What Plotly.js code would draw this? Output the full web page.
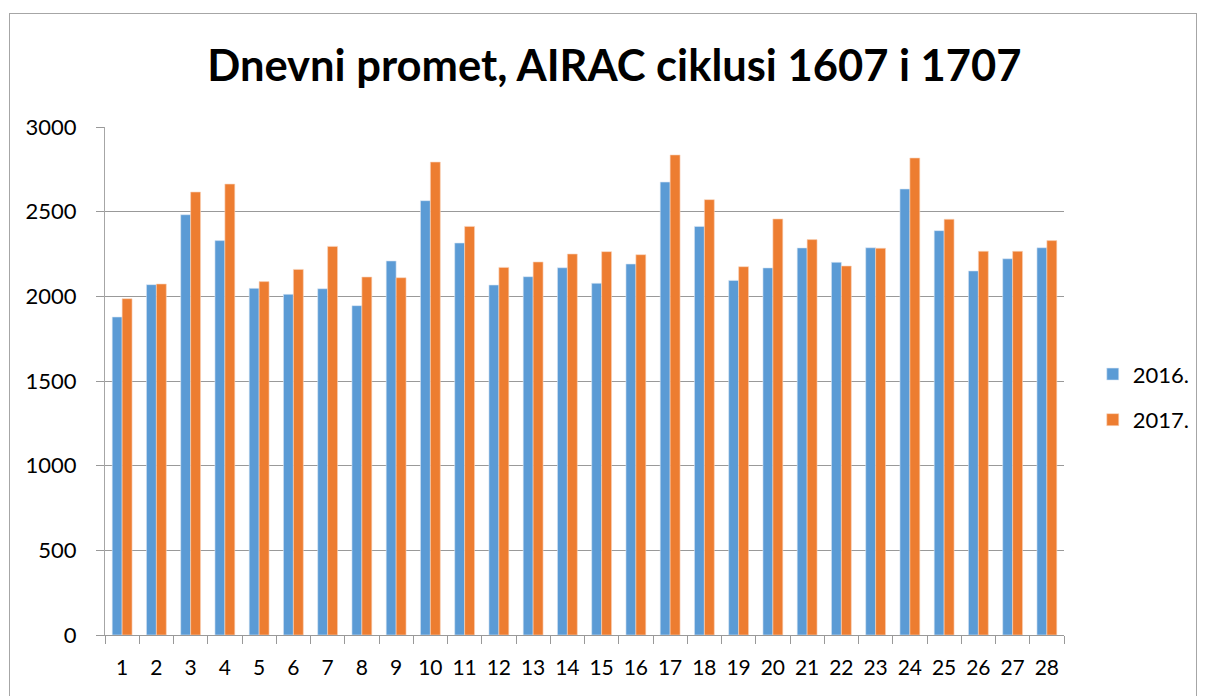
<!DOCTYPE html>
<html>
<head>
<meta charset="utf-8">
<script src="https://cdn.plot.ly/plotly-3.0.1.min.js"></script>
<style>
html,body{margin:0;padding:0;background:#fff;}
#wrap{position:relative;width:1207px;height:696px;overflow:hidden;}
#chart{position:absolute;left:0;top:0;width:1207px;height:696px;}
#frame{position:absolute;left:9px;top:13px;width:1186px;height:720px;border:1px solid #a6a6a6;pointer-events:none;}
</style>
</head>
<body>
<div id="wrap"><div id="chart"></div><div id="frame"></div></div>
<script>
const days = ['1','2','3','4','5','6','7','8','9','10','11','12','13','14','15','16','17','18','19','20','21','22','23','24','25','26','27','28'];
const series2016 = [1878,2069,2482,2329,2047,2012,2045,1945,2209,2565,2315,2067,2116,2169,2077,2191,2675,2413,2094,2168,2286,2201,2287,2634,2388,2150,2222,2287];
const series2017 = [1986,2073,2616,2663,2087,2159,2295,2114,2110,2793,2413,2171,2203,2250,2264,2246,2835,2571,2175,2457,2335,2179,2284,2817,2455,2266,2266,2329];
const seriesNames = ['2016.','2017.'];
const yTicks = [0,500,1000,1500,2000,2500,3000];

const font = 'Lato, Calibri, "Open Sans", sans-serif';
const traces = [
  {type:'bar', name:seriesNames[0], x:days, y:series2016, legendgroup:'a',
   marker:{color:'#5B9BD5', line:{color:'#dbe8f5', width:0.6}}},
  {type:'bar', name:seriesNames[1], x:days, y:series2017, legendgroup:'b',
   marker:{color:'#ED7D31', line:{color:'#f8d5bd', width:0.6}}}
];
const layout = {
  width:1207, height:696,
  margin:{l:105, r:140, t:127, b:61},
  paper_bgcolor:'rgba(0,0,0,0)', plot_bgcolor:'#fff',
  font:{family:font, color:'#000', size:22},
  title:{text:'<b>Dnevni promet, AIRAC ciklusi 1607 i 1707</b>', font:{family:font, size:43.5, color:'#000'},
         x:0.509, xanchor:'center', xref:'container', y:1-66/696, yanchor:'middle', yref:'container'},
  barmode:'group', bargap:0.42, bargroupgap:0,
  showlegend:true,
  legend:{x:1.03, xanchor:'left', y:0.468, yanchor:'middle', font:{family:font, size:22},
          tracegroupgap:14, traceorder:'grouped', itemwidth:30},
  xaxis:{type:'category', showgrid:false, showline:true, linecolor:'#999', linewidth:1,
         ticks:'outside', ticklen:8, tickcolor:'#999', tickson:'boundaries', ticklabelstandoff:14,
         tickangle:0, tickfont:{family:font, size:21}, fixedrange:true, automargin:false},
  yaxis:{range:[0,3000], tickvals:yTicks, showgrid:true, gridcolor:'#999', gridwidth:1,
         showline:true, linecolor:'#a6a6a6', linewidth:1, ticks:'outside', ticklen:8, tickcolor:'#999',
         ticklabelstandoff:15, tickfont:{family:font, size:22}, zeroline:false, fixedrange:true, automargin:false}
};
Plotly.newPlot('chart', traces, layout, {displayModeBar:false, staticPlot:true});
</script>
</body>
</html>
